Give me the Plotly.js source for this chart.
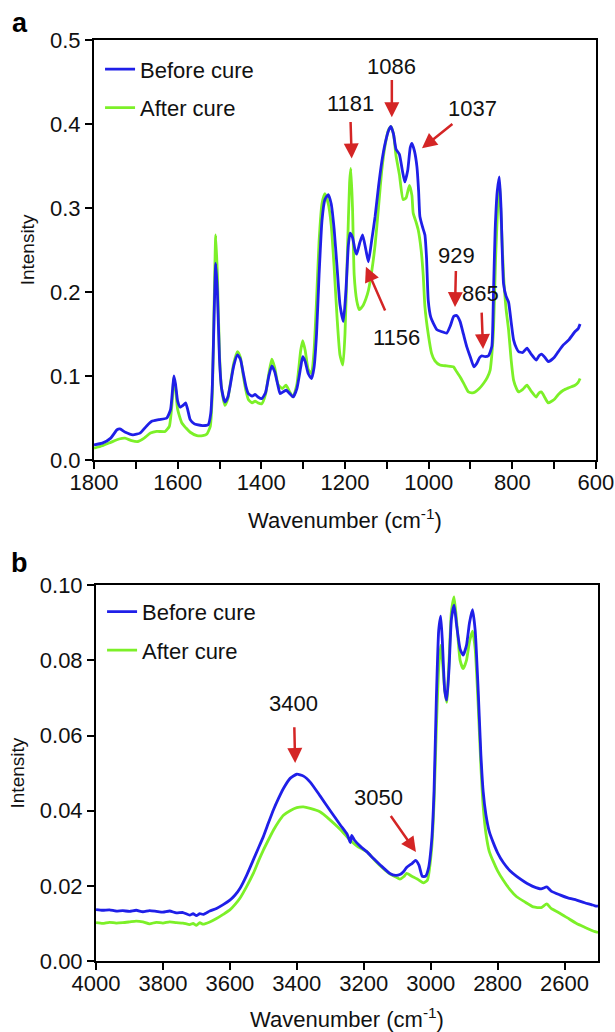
<!DOCTYPE html>
<html>
<head>
<meta charset="utf-8">
<script src="https://cdn.plot.ly/plotly-3.0.1.min.js"></script>
<style>html,body{margin:0;padding:0;background:#fff;}#chart{width:615px;height:1032px;}</style>
</head>
<body>
<div id="chart"></div>
<script>
// ---------- Panel a : 1800-600 cm-1 ----------
const wnBeforeA = [1800,1780,1760,1745,1738,1725,1707,1690,1675,1662,1645,1626,1617,1612,1609,1605,1600,1594,1585,1581,1576,1570,1560,1554,1540,1527,1521,1517,1513,1509,1505,1500,1495,1487,1480,1475,1466,1457,1450,1443,1437,1431,1422,1415,1408,1399,1390,1382,1375,1368,1360,1355,1341,1332,1324,1315,1306,1301,1295,1288,1280,1274,1268,1262,1255,1248,1240,1233,1226,1219,1212,1204,1198,1192,1188,1182,1176,1172,1165,1158,1150,1144,1136,1128,1120,1112,1104,1096,1090,1084,1078,1070,1063,1057,1050,1044,1040,1034,1028,1024,1021,1015,1009,1005,1001,995,989,980,970,957,948,940,933,925,917,909,900,892,885,878,873,865,857,849,845,841,836,831,827,821,815,809,803,797,790,785,775,765,755,743,736,730,722,714,700,690,678,665,650,643,638];
const intBeforeA = [0.018,0.020,0.026,0.036,0.037,0.033,0.030,0.032,0.040,0.046,0.048,0.050,0.060,0.085,0.100,0.090,0.070,0.063,0.066,0.068,0.060,0.048,0.043,0.042,0.041,0.042,0.055,0.090,0.170,0.234,0.200,0.120,0.085,0.069,0.075,0.087,0.112,0.125,0.120,0.103,0.088,0.079,0.076,0.078,0.075,0.073,0.080,0.100,0.112,0.105,0.088,0.079,0.083,0.079,0.075,0.085,0.110,0.123,0.117,0.103,0.097,0.110,0.150,0.220,0.285,0.310,0.316,0.305,0.275,0.230,0.185,0.165,0.200,0.255,0.270,0.265,0.250,0.245,0.258,0.268,0.250,0.236,0.262,0.290,0.325,0.355,0.377,0.392,0.397,0.388,0.370,0.364,0.345,0.331,0.345,0.372,0.377,0.368,0.349,0.320,0.290,0.278,0.268,0.240,0.190,0.170,0.163,0.155,0.153,0.151,0.160,0.171,0.172,0.165,0.150,0.135,0.122,0.111,0.115,0.122,0.124,0.123,0.124,0.135,0.200,0.274,0.320,0.337,0.300,0.210,0.195,0.188,0.165,0.143,0.133,0.129,0.128,0.133,0.126,0.119,0.124,0.126,0.122,0.117,0.122,0.129,0.137,0.143,0.153,0.156,0.162];
const wnAfterA = [1800,1780,1760,1740,1726,1710,1695,1680,1665,1650,1630,1620,1613,1609,1605,1600,1590,1580,1570,1554,1540,1530,1522,1517,1513,1509,1505,1500,1495,1487,1480,1475,1466,1457,1450,1443,1437,1431,1422,1415,1408,1399,1390,1382,1375,1368,1360,1350,1341,1332,1324,1315,1306,1301,1295,1288,1280,1274,1268,1262,1255,1248,1240,1233,1226,1219,1212,1205,1200,1194,1189,1186,1182,1178,1172,1166,1158,1150,1144,1136,1128,1120,1112,1104,1096,1090,1084,1078,1070,1061,1054,1046,1040,1037,1030,1025,1018,1013,1009,1001,993,985,973,957,941,933,925,915,905,895,889,879,869,860,853,849,845,840,835,831,827,821,815,809,803,797,790,785,775,765,755,743,736,730,722,714,700,690,678,665,650,643,638];
const intAfterA = [0.014,0.017,0.021,0.025,0.026,0.023,0.022,0.026,0.032,0.034,0.034,0.040,0.070,0.098,0.085,0.060,0.044,0.038,0.033,0.029,0.029,0.031,0.040,0.080,0.180,0.268,0.220,0.125,0.085,0.065,0.073,0.088,0.115,0.129,0.122,0.100,0.083,0.072,0.068,0.070,0.068,0.067,0.078,0.103,0.120,0.110,0.090,0.085,0.089,0.081,0.075,0.090,0.130,0.142,0.130,0.108,0.103,0.130,0.190,0.260,0.305,0.317,0.305,0.280,0.230,0.170,0.125,0.113,0.150,0.250,0.330,0.347,0.300,0.220,0.190,0.179,0.183,0.192,0.202,0.225,0.256,0.300,0.345,0.375,0.393,0.397,0.388,0.362,0.340,0.310,0.312,0.327,0.315,0.294,0.283,0.274,0.250,0.220,0.183,0.150,0.127,0.118,0.113,0.112,0.111,0.105,0.099,0.090,0.081,0.080,0.081,0.085,0.091,0.098,0.107,0.125,0.155,0.240,0.300,0.330,0.290,0.220,0.180,0.155,0.120,0.095,0.085,0.081,0.084,0.089,0.082,0.075,0.080,0.081,0.074,0.068,0.072,0.078,0.083,0.086,0.089,0.092,0.097];

// ---------- Panel b : 4000-2500 cm-1 ----------
const wnBeforeB = [4000,3980,3960,3940,3920,3900,3880,3860,3840,3820,3800,3780,3760,3740,3720,3710,3700,3690,3680,3660,3640,3620,3600,3585,3570,3550,3530,3515,3500,3485,3470,3455,3440,3420,3400,3380,3360,3331,3300,3270,3250,3243,3240,3236,3228,3210,3191,3170,3150,3122,3105,3092,3080,3072,3055,3045,3035,3025,3015,3007,2997,2990,2983,2976,2970,2965,2958,2952,2945,2938,2930,2922,2912,2903,2893,2884,2875,2867,2858,2850,2843,2835,2825,2813,2800,2783,2763,2743,2720,2693,2670,2653,2640,2614,2590,2564,2540,2520,2509,2500];
const intBeforeB = [0.0137,0.0135,0.0136,0.0133,0.0134,0.0132,0.0135,0.0131,0.0134,0.0132,0.0130,0.0133,0.0128,0.0129,0.0122,0.0126,0.0121,0.0126,0.0124,0.0133,0.0140,0.0150,0.0162,0.0175,0.0193,0.0228,0.0269,0.0300,0.0331,0.0367,0.0402,0.0432,0.0459,0.0486,0.0497,0.0492,0.0476,0.0440,0.0400,0.0362,0.0338,0.0322,0.0315,0.0334,0.0322,0.0305,0.0291,0.0272,0.0255,0.0233,0.0228,0.0230,0.0239,0.0249,0.0260,0.0268,0.0255,0.0225,0.0226,0.0245,0.0320,0.0450,0.0700,0.0880,0.0918,0.0850,0.0720,0.0694,0.0780,0.0910,0.0947,0.0890,0.0830,0.0814,0.0840,0.0900,0.0935,0.0880,0.0720,0.0550,0.0450,0.0390,0.0345,0.0315,0.0288,0.0262,0.0240,0.0225,0.0211,0.0198,0.0192,0.0197,0.0186,0.0176,0.0168,0.0162,0.0155,0.0150,0.0147,0.0146];
const wnAfterB = [4000,3980,3960,3940,3920,3900,3880,3860,3840,3820,3800,3780,3760,3740,3720,3710,3700,3690,3680,3660,3640,3620,3600,3585,3570,3550,3530,3515,3500,3485,3470,3455,3440,3420,3400,3380,3360,3331,3300,3270,3241,3220,3191,3170,3150,3122,3105,3092,3080,3072,3055,3040,3022,3010,2997,2990,2983,2976,2970,2965,2958,2952,2945,2938,2930,2922,2912,2903,2893,2884,2875,2867,2858,2850,2843,2835,2825,2813,2800,2783,2763,2743,2720,2693,2670,2653,2640,2614,2590,2564,2540,2520,2509,2500];
const intAfterB = [0.0102,0.0100,0.0103,0.0101,0.0102,0.0104,0.0106,0.0104,0.0099,0.0103,0.0101,0.0104,0.0102,0.0101,0.0097,0.0100,0.0095,0.0102,0.0098,0.0104,0.0113,0.0124,0.0136,0.0150,0.0167,0.0198,0.0233,0.0265,0.0295,0.0322,0.0348,0.0370,0.0388,0.0400,0.0408,0.0410,0.0406,0.0397,0.0375,0.0350,0.0322,0.0306,0.0291,0.0271,0.0253,0.0232,0.0224,0.0218,0.0225,0.0233,0.0225,0.0218,0.0208,0.0215,0.0300,0.0420,0.0620,0.0780,0.0840,0.0800,0.0720,0.0688,0.0800,0.0930,0.0969,0.0900,0.0800,0.0778,0.0800,0.0850,0.0878,0.0830,0.0680,0.0520,0.0410,0.0340,0.0292,0.0265,0.0240,0.0215,0.0190,0.0171,0.0158,0.0144,0.0142,0.0152,0.0140,0.0127,0.0114,0.0100,0.0090,0.0082,0.0078,0.0076];

// ---------- Tick labels and legend names ----------
const xTicksA = [1800,1600,1400,1200,1000,800,600];
const yTicksA = [0.0,0.1,0.2,0.3,0.4,0.5];
const xTicksB = [4000,3800,3600,3400,3200,3000,2800,2600];
const yTicksB = [0.00,0.02,0.04,0.06,0.08,0.10];
const seriesNames = ["Before cure","After cure"];

// ---------- Peak annotations: label, arrow head (hx,hy), label centre (lx,ly), gap px ----------
const peaksA = [
  {label:"1181", hx:1184, hy:0.359, lx:1188, ly:0.425, gap:5},
  {label:"1086", hx:1088, hy:0.408, lx:1088, ly:0.469, gap:0},
  {label:"1037", hx:1016, hy:0.371, lx:896,  ly:0.419, gap:3},
  {label:"1156", hx:1150, hy:0.230, lx:1076, ly:0.146, gap:14},
  {label:"929",  hx:937,  hy:0.182, lx:934,  ly:0.244, gap:2},
  {label:"865",  hx:870,  hy:0.132, lx:875,  ly:0.198, gap:5}
];
const peaksB = [
  {label:"3400", hx:3405, hy:0.0527, lx:3409, ly:0.0686, gap:10},
  {label:"3050", hx:3044, hy:0.0290, lx:3157, ly:0.0434, gap:5}
];

const BLUE = '#1f1fe8';
const GREEN = '#7cf028';
const RED = '#d42525';
const FONT = 'Liberation Sans, Arial, Helvetica, sans-serif';
const FS = 22;

function tr(x, y, name, color, xa, ya, lg, rank){
  return {x:x, y:y, name:name, type:'scatter', mode:'lines',
    line:{color:color, width:2.8, shape:'spline', smoothing:0.5},
    xaxis:xa, yaxis:ya, legend:lg, legendgroup:lg+name, legendrank:rank};
}
const data = [
  tr(wnAfterA, intAfterA, seriesNames[1], GREEN, 'x', 'y', 'legend', 2),
  tr(wnBeforeA, intBeforeA, seriesNames[0], BLUE, 'x', 'y', 'legend', 1),
  tr(wnAfterB, intAfterB, seriesNames[1], GREEN, 'x2', 'y2', 'legend2', 2),
  tr(wnBeforeB, intBeforeB, seriesNames[0], BLUE, 'x2', 'y2', 'legend2', 1)
];

const annotations = [];
function addPeaks(list, xr, yr){
  list.forEach(p => {
    annotations.push({x:p.hx, y:p.hy, ax:p.lx, ay:p.ly, xref:xr, yref:yr, axref:xr, ayref:yr,
      showarrow:true, arrowhead:2, arrowsize:1.2, arrowwidth:2.5, arrowcolor:RED,
      text:p.label, standoff:0, startstandoff:p.gap,
      font:{family:FONT, size:FS, color:'#111'}});
  });
}
addPeaks(peaksA, 'x', 'y');
addPeaks(peaksB, 'x2', 'y2');
annotations.push({x:-0.147, y:1.019, xref:'paper', yref:'paper', text:'<b>a</b>', showarrow:false,
  xanchor:'center', yanchor:'middle', font:{family:FONT, size:27, color:'#000'}});
annotations.push({x:-0.147, y:0.4316, xref:'paper', yref:'paper', text:'<b>b</b>', showarrow:false,
  xanchor:'center', yanchor:'middle', font:{family:FONT, size:27, color:'#000'}});

const axisCommon = {showline:true, mirror:true, linecolor:'#000', linewidth:2, ticks:'outside',
  ticklen:7, tickwidth:2, tickcolor:'#000', showgrid:false, zeroline:false,
  tickfont:{family:FONT, size:FS, color:'#111'}};
const xTitle = {text:'Wavenumber (cm<sup>-1</sup>)', font:{family:FONT, size:FS, color:'#111'}, standoff:18};
const yTitle = {text:'Intensity', font:{family:FONT, size:19, color:'#111'}, standoff:10};

const layout = {
  width:615, height:1032,
  margin:{l:94, r:17, t:40, b:71},
  paper_bgcolor:'#fff', plot_bgcolor:'#fff',
  font:{family:FONT, color:'#111'},
  showlegend:true,
  xaxis:Object.assign({}, axisCommon, {domain:[0,0.996], range:[1800,600], anchor:'y',
    tickvals:xTicksA, ticktext:xTicksA.map(String), ticklabelstandoff:-5,
    minor:{dtick:100, ticks:'outside', ticklen:7, tickwidth:2, tickcolor:'#000', showgrid:false},
    title:xTitle}),
  yaxis:Object.assign({}, axisCommon, {domain:[0.544,1], range:[0,0.5], anchor:'x',
    tickvals:yTicksA, ticktext:yTicksA.map(v=>v.toFixed(1)), title:yTitle}),
  xaxis2:Object.assign({}, axisCommon, {domain:[0.004,1], range:[4000,2500], anchor:'y2',
    tickvals:xTicksB, ticktext:xTicksB.map(String), ticklabelstandoff:-5, title:xTitle}),
  yaxis2:Object.assign({}, axisCommon, {domain:[0,0.408], range:[0,0.1], anchor:'x2',
    tickvals:yTicksB, ticktext:yTicksB.map(v=>v.toFixed(2)), title:yTitle}),
  legend:{x:0.012, y:0.991, xanchor:'left', yanchor:'top', bgcolor:'rgba(0,0,0,0)',
    traceorder:'grouped', tracegroupgap:7, font:{family:FONT, size:FS, color:'#111'}},
  legend2:{x:0.016, y:0.402, xanchor:'left', yanchor:'top', bgcolor:'rgba(0,0,0,0)',
    traceorder:'grouped', tracegroupgap:7, font:{family:FONT, size:FS, color:'#111'}},
  annotations:annotations
};

Plotly.newPlot('chart', data, layout, {displayModeBar:false, staticPlot:true});
</script>
</body>
</html>
